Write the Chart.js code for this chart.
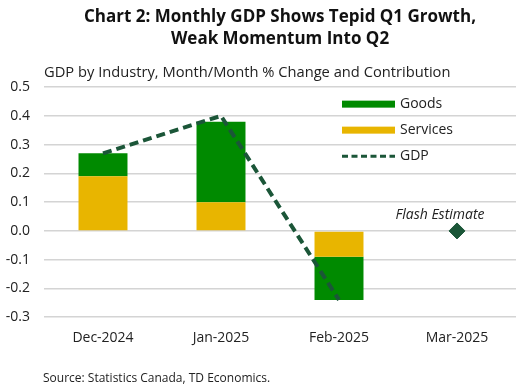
<!DOCTYPE html>
<html>
<head>
<meta charset="utf-8">
<script src="https://cdn.jsdelivr.net/npm/chart.js@4/dist/chart.umd.min.js"></script>
<style>
  html, body { margin: 0; padding: 0; background: #fff; }
  #wrap { width: 517px; height: 386px; }
</style>
</head>
<body>
<div id="wrap"><canvas id="myChart" width="517" height="386"></canvas></div>
<script>
  const labels = ["Dec-2024", "Jan-2025", "Feb-2025", "Mar-2025"];
  const services = [0.19, 0.10, -0.09, null];
  const goods = [0.08, 0.28, -0.15, null];
  const gdp = [0.27, 0.40, -0.24, null];
  const flash = [null, null, null, 0.0];
  const yTicks = [-0.3, -0.2, -0.1, 0.0, 0.1, 0.2, 0.3, 0.4, 0.5];

  const FONT = "'Open Sans', sans-serif";
  const goodsColor = "#008a00";
  const servicesColor = "#e8b500";
  const gdpColor = "#1b5638";

  // legend drawn inside the plot, top right
  const insideLegend = {
    id: "insideLegend",
    afterDraw(chart) {
      const c = chart.ctx;
      const area = chart.chartArea;
      const x0 = area.right - 174;
      const items = [
        { text: "Goods", color: goodsColor, kind: "box" },
        { text: "Services", color: servicesColor, kind: "box" },
        { text: "GDP", color: gdpColor, kind: "dash" }
      ];
      c.save();
      c.font = "14px " + FONT;
      c.textBaseline = "middle";
      items.forEach((it, i) => {
        const y = area.top + 17 + i * 26;
        if (it.kind === "box") {
          c.fillStyle = it.color;
          c.fillRect(x0, y - 3.5, 53, 7);
        } else {
          c.strokeStyle = it.color;
          c.lineWidth = 3;
          c.setLineDash([6, 3.5]);
          c.beginPath();
          c.moveTo(x0, y);
          c.lineTo(x0 + 53, y);
          c.stroke();
          c.setLineDash([]);
        }
        c.fillStyle = "#222";
        c.fillText(it.text, x0 + 58, y);
      });
      // flash estimate note
      const pt = chart.getDatasetMeta(3).data[3];
      if (pt) {
        c.font = "italic 14px " + FONT;
        c.textAlign = "center";
        c.fillText("Flash Estimate", pt.x - 17, pt.y - 16);
      }
      // source
      c.font = "12px " + FONT;
      c.textAlign = "left";
      c.fillText("Source: Statistics Canada, TD Economics.", area.left - 1, 379);
      c.restore();
    }
  };

  const ctx = document.getElementById("myChart");

  new Chart(ctx, {
    type: "bar",
    data: {
      labels: labels,
      datasets: [
        { label: "Services", data: services, backgroundColor: servicesColor, stack: "parts",
          barPercentage: 0.415, categoryPercentage: 1, order: 2 },
        { label: "Goods", data: goods, backgroundColor: goodsColor, stack: "parts",
          barPercentage: 0.415, categoryPercentage: 1, order: 2 },
        { type: "line", label: "GDP", data: gdp, stack: "gdp", borderColor: gdpColor,
          borderWidth: 4, borderDash: [9, 5], pointRadius: 0, tension: 0, order: 1 },
        { type: "line", label: "Flash", data: flash, stack: "flash", showLine: false,
          pointStyle: "rectRot", pointRadius: 8, pointBackgroundColor: gdpColor,
          pointBorderColor: gdpColor, order: 0 }
      ]
    },
    options: {
      responsive: false,
      animation: false,
      layout: { autoPadding: false, padding: { left: 4, right: 1, top: 0, bottom: 36 } },
      plugins: {
        legend: { display: false },
        tooltip: { enabled: false },
        title: {
          display: true,
          fullSize: false,
          text: ["Chart 2: Monthly GDP Shows Tepid Q1 Growth,", "Weak Momentum Into Q2"],
          font: { family: FONT, size: 17, weight: "bold", lineHeight: 1.25 },
          color: "#111",
          padding: { top: 7, bottom: 15 }
        },
        subtitle: {
          display: true,
          fullSize: false,
          align: "start",
          text: "GDP by Industry, Month/Month % Change and Contribution",
          font: { family: FONT, size: 14.7, lineHeight: 1.2 },
          color: "#222",
          padding: { bottom: 5 }
        }
      },
      scales: {
        x: {
          stacked: true,
          grid: { display: false },
          border: { display: false },
          ticks: { font: { family: FONT, size: 14 }, color: "#222", padding: 4 }
        },
        y: {
          stacked: true,
          min: -0.3,
          max: 0.5,
          afterBuildTicks(scale) {
            scale.ticks = yTicks.map(v => ({ value: v }));
          },
          afterFit(scale) {
            scale.width = 40;
          },
          grid: { color: "#d4d4d4", lineWidth: 1.5, drawTicks: false },
          border: { display: false },
          ticks: {
            font: { family: FONT, size: 14 }, color: "#222", padding: 14,
            callback: v => v.toFixed(1)
          }
        }
      }
    },
    plugins: [insideLegend]
  });
</script>
</body>
</html>
